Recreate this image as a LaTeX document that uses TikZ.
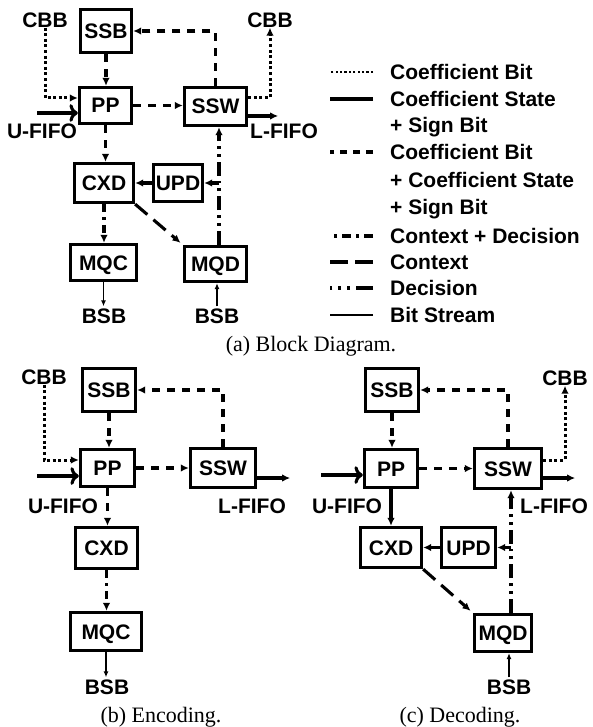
\documentclass[tikz,border=0pt]{standalone}
\usepackage{fontspec}
\setmainfont{Liberation Serif}
\setsansfont{Liberation Sans}
\usetikzlibrary{arrows.meta,calc}
\newcommand{\blkfont}{\sffamily\bfseries\fontsize{21}{24}\selectfont}

\begin{document}
\begin{tikzpicture}[x=1pt, y=-1pt,
        blk/.style={draw, line width=3.3pt, inner sep=0pt, font=\blkfont,
                    text height=15pt, text depth=0pt},
        lbl/.style={inner sep=0pt, font=\blkfont, text height=15pt, text depth=0pt},
        capt/.style={inner sep=0pt, font=\fontsize{22}{26}\selectfont},
        sig/.style={line width=3.1pt, -{Latex[length=8pt,width=7.5pt]}},
        cbit/.style={sig, line width=3pt, dash pattern=on 3pt off 2.6pt},
        cstate/.style={sig},
        call/.style={sig, dash pattern=on 8pt off 7pt},
        cdec/.style={sig, dash pattern=on 8pt off 5pt on 2.8pt off 5pt},
        ctx/.style={sig, dash pattern=on 16pt off 8pt},
        decis/.style={sig, dash pattern=on 14pt off 5pt on 2.8pt off 5pt on 2.8pt off 5pt},
        bits/.style={line width=1.2pt, -{Latex[length=6pt,width=5pt]}}
    ]
    \useasboundingbox (0,0) rectangle (592,727);

    %% ── (a) Block diagram ───────────────────────────────────────────────────
    \node[blk, minimum width=51, minimum height=43] (ssbA) at (106,31)    {SSB};
    \node[blk, minimum width=52, minimum height=36] (ppA)  at (105.5,105.5) {PP};
    \node[blk, minimum width=62, minimum height=38] (sswA) at (215.5,106.5) {SSW};
    \node[blk, minimum width=59, minimum height=39] (cxdA) at (104,183)   {CXD};
    \node[blk, minimum width=49, minimum height=37] (updA) at (178,183)   {UPD};
    \node[blk, minimum width=66, minimum height=36] (mqcA) at (103.5,262.5) {MQC};
    \node[blk, minimum width=62, minimum height=35] (mqdA) at (215.5,264) {MQD};

    \node[lbl] (cbbA1) at (45,20)   {CBB};
    \node[lbl] (cbbA2) at (270,20)  {CBB};
    \node[lbl] (ufA)   at (42,131)  {U-FIFO};
    \node[lbl] (lfA)   at (284,131) {L-FIFO};
    \node[lbl] (bsbA1) at (104,316) {BSB};
    \node[lbl] (bsbA2) at (217,316) {BSB};

    \draw[cbit] (cbbA1.south) |- ([yshift=7.5pt]ppA.west);
    \draw[cstate, <-] ([yshift=-7.5pt]ppA.west) -- ++(-41,0);
    \draw[call] (ssbA.south) -- (ssbA.south |- ppA.north);
    \draw[call] (ppA.east) -- (ppA.east -| sswA.west);
    \draw[call] (sswA.north) |- (ssbA.east);
    \draw[cbit] ([yshift=8.5pt]sswA.east) -| (cbbA2.south);
    \draw[cstate] ([yshift=-9.5pt]sswA.east) -- ++(30,0);
    \draw[call] (ppA.south) -- (ppA.south |- cxdA.north);
    \draw[cstate] (updA.west) -- (cxdA.east);
    \draw[decis] ([xshift=3.5pt]mqdA.north) -- ([xshift=3.5pt]mqdA.north |- sswA.south);
    \draw[decis] ([xshift=3.5pt]mqdA.north |- updA.east) -- (updA.east);
    \draw[ctx, shorten >=3pt] (cxdA.south east) -- (mqdA.north west);
    \draw[cdec] (cxdA.south) -- (cxdA.south |- mqcA.north);
    \draw[bits, shorten >=2pt] (mqcA.south) -- (mqcA.south |- bsbA1.north);
    \draw[bits, shorten <=2pt] (bsbA2.north) -- (bsbA2.north |- mqdA.south);

    \node[capt] (capA) at (311,346) {(a) Block Diagram.};

    %% ── Legend ──────────────────────────────────────────────────────────────
    \node[lbl, anchor=west] (lg1)  at (390,72)  {Coefficient Bit};
    \node[lbl, anchor=west] (lg2)  at (390,99)  {Coefficient State};
    \node[lbl, anchor=west] (lg2b) at (390,125) {+ Sign Bit};
    \node[lbl, anchor=west] (lg3)  at (390,152) {Coefficient Bit};
    \node[lbl, anchor=west] (lg3b) at (390,180) {+ Coefficient State};
    \node[lbl, anchor=west] (lg3c) at (390,207) {+ Sign Bit};
    \node[lbl, anchor=west] (lg4)  at (390,236) {Context + Decision};
    \node[lbl, anchor=west] (lg5)  at (390,262) {Context};
    \node[lbl, anchor=west] (lg6)  at (390,288) {Decision};
    \node[lbl, anchor=west] (lg7)  at (390,315) {Bit Stream};

    \draw[cbit, -, line width=2.2pt, dash pattern=on 2.2pt off 2.2pt] ([xshift=-17pt]lg1.west) -- ++(-43,0);
    \draw[cstate, -] ([xshift=-17pt]lg2.west) -- ++(-43,0);
    \draw[call, -, dash pattern=on 7pt off 6pt] ([xshift=-17pt]lg3.west) -- ++(-43,0);
    \draw[cdec, -, dash pattern=on 9pt off 5pt on 2.8pt off 5pt] ([xshift=-17pt]lg4.west) -- ++(-43,0);
    \draw[ctx, -, dash pattern=on 18pt off 7pt] ([xshift=-17pt]lg5.west) -- ++(-43,0);
    \draw[decis, -, dash pattern=on 17pt off 6pt on 2.8pt off 6pt on 2.8pt off 6pt] ([xshift=-17pt]lg6.west) -- ++(-43,0);
    \draw[bits, -] ([xshift=-17pt]lg7.west) -- ++(-43,0);

    %% ── (b) Encoding ────────────────────────────────────────────────────────
    \node[blk, minimum width=53, minimum height=43] (ssbB) at (109,390)   {SSB};
    \node[blk, minimum width=54, minimum height=37] (ppB)  at (107.5,468) {PP};
    \node[blk, minimum width=65, minimum height=39] (sswB) at (223,468)   {SSW};
    \node[blk, minimum width=62, minimum height=41] (cxdB) at (106.5,548) {CXD};
    \node[blk, minimum width=71, minimum height=38] (mqcB) at (106,631.5) {MQC};

    \node[lbl] (cbbB) at (44,377)  {CBB};
    \node[lbl] (ufB)  at (63,506)  {U-FIFO};
    \node[lbl] (lfB)  at (252,506) {L-FIFO};
    \node[lbl] (bsbB) at (107,687) {BSB};

    \draw[cbit] (cbbB.south) |- ([yshift=8pt]ppB.west);
    \draw[cstate, <-] ([yshift=-8pt]ppB.west) -- ++(-42,0);
    \draw[call] (ssbB.south) -- (ssbB.south |- ppB.north);
    \draw[call] (ppB.east) -- (ppB.east -| sswB.west);
    \draw[call] (sswB.north) |- (ssbB.east);
    \draw[cstate] ([yshift=-10pt]sswB.east) -- ++(33,0);
    \draw[call] (ppB.south) -- (ppB.south |- cxdB.north);
    \draw[cdec] (cxdB.south) -- (cxdB.south |- mqcB.north);
    \draw[bits, shorten >=2pt] (mqcB.south) -- (mqcB.south |- bsbB.north);

    \node[capt] (capB) at (161,717) {(b) Encoding.};

    %% ── (c) Decoding ────────────────────────────────────────────────────────
    \node[blk, minimum width=53, minimum height=43] (ssbC) at (392,390)   {SSB};
    \node[blk, minimum width=53, minimum height=38] (ppC)  at (391,468.5) {PP};
    \node[blk, minimum width=67, minimum height=40] (sswC) at (508,468.5) {SSW};
    \node[blk, minimum width=61, minimum height=40] (cxdC) at (391,547.5) {CXD};
    \node[blk, minimum width=54, minimum height=40] (updC) at (468.5,547.5) {UPD};
    \node[blk, minimum width=57, minimum height=37] (mqdC) at (503,633)   {MQD};

    \node[lbl] (cbbC) at (565,378) {CBB};
    \node[lbl] (ufC)  at (347,506) {U-FIFO};
    \node[lbl] (lfC)  at (554,506) {L-FIFO};
    \node[lbl] (bsbC) at (509,687) {BSB};

    \draw[cstate, <-] ([yshift=-6.5pt]ppC.west) -- ++(-42,0);
    \draw[call] (ssbC.south) -- (ssbC.south |- ppC.north);
    \draw[call] (ppC.east) -- (ppC.east -| sswC.west);
    \draw[call] (sswC.north) |- (ssbC.east);
    \draw[cbit] ([yshift=8.5pt]sswC.east) -| (cbbC.south);
    \draw[cstate] ([yshift=-9.5pt]sswC.east) -- ++(32,0);
    \draw[cstate] (ppC.south) -- (ppC.south |- cxdC.north);
    \draw[cstate] (updC.west) -- (cxdC.east);
    \draw[decis] ([xshift=8pt]mqdC.north) -- ([xshift=8pt]mqdC.north |- sswC.south);
    \draw[decis] ([xshift=8pt]mqdC.north |- updC.east) -- (updC.east);
    \draw[ctx, shorten >=3pt] (cxdC.south east) -- (mqdC.north west);
    \draw[bits, shorten <=2pt] (bsbC.north) -- (bsbC.north |- mqdC.south);

    \node[capt] (capC) at (460,717) {(c) Decoding.};

\end{tikzpicture}
\end{document}
